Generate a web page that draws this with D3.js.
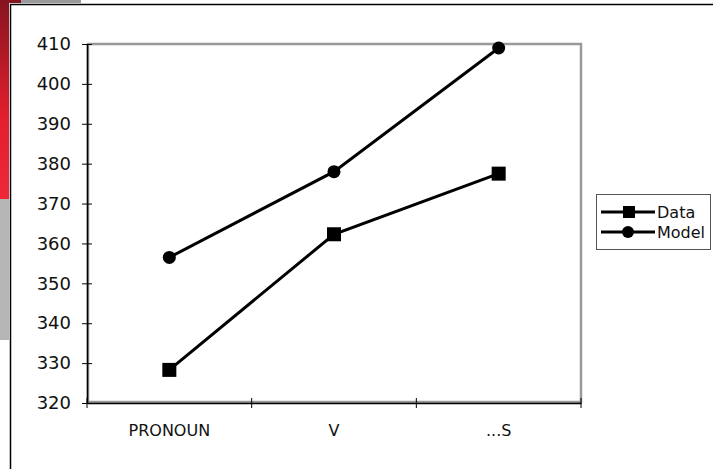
<!DOCTYPE html>
<html>
<head>
<meta charset="utf-8">
<script src="https://cdn.jsdelivr.net/npm/d3@7"></script>
<style>
  body { margin: 0; background: #fff; }
  svg { display: block; }
  text { font-family: "DejaVu Sans", sans-serif; fill: #111; }
</style>
</head>
<body>
<div id="chart"></div>
<script>
// Values
const categories = ["PRONOUN", "V", "...S"];
const dataValues = [328.3, 362.3, 377.5];
const modelValues = [356.5, 378, 409];
const yTicks = [320, 330, 340, 350, 360, 370, 380, 390, 400, 410];

const width = 713, height = 469;

const svg = d3.select("#chart")
    .append("svg")
    .attr("width", width)
    .attr("height", height);

// Slide decoration on the left edge
const defs = svg.append("defs");
const grad = defs.append("linearGradient")
    .attr("id", "redbar")
    .attr("x1", 0).attr("y1", 0).attr("x2", 0).attr("y2", 1);
grad.append("stop").attr("offset", "0%").attr("stop-color", "#86141f");
grad.append("stop").attr("offset", "60%").attr("stop-color", "#e41e2e");
grad.append("stop").attr("offset", "100%").attr("stop-color", "#f0283a");

svg.append("rect").attr("x", 0).attr("y", 0).attr("width", 9).attr("height", 199)
    .attr("fill", "url(#redbar)");
svg.append("rect").attr("x", 0).attr("y", 0).attr("width", 21).attr("height", 3)
    .attr("fill", "#86141f");
svg.append("rect").attr("x", 0).attr("y", 199).attr("width", 9).attr("height", 141)
    .attr("fill", "#b6b6b6");
svg.append("rect").attr("x", 21).attr("y", 0).attr("width", 60).attr("height", 3)
    .attr("fill", "#9a9a9a");

// Chart frame
svg.append("path")
    .attr("d", "M10.5," + height + "V4.5H" + width)
    .attr("fill", "none")
    .attr("stroke", "#000")
    .attr("stroke-width", 1.5);

// Scales
const x = d3.scaleBand()
    .domain(categories)
    .range([87, 581])
    .padding(0);

const y = d3.scaleLinear()
    .domain([320, 410])
    .range([403, 44]);

// Plot area border (grey)
svg.append("rect")
    .attr("x", x.range()[0] + 1)
    .attr("y", y.range()[1])
    .attr("width", x.range()[1] - x.range()[0] - 1)
    .attr("height", y.range()[0] - y.range()[1] - 1)
    .attr("fill", "none")
    .attr("stroke", "#999")
    .attr("stroke-width", 2.5);

// Y axis
const yAxis = svg.append("g")
    .attr("transform", "translate(" + x.range()[0] + ",0)")
    .call(d3.axisLeft(y).tickValues(yTicks).tickSize(5).tickSizeOuter(0).tickFormat(d3.format("d")));
yAxis.select(".domain").attr("stroke", "#000").attr("stroke-width", 1.5);
yAxis.selectAll(".tick line").attr("x1", 5).attr("x2", -5).attr("stroke", "#000");
yAxis.selectAll(".tick text")
    .attr("x", -16)
    .style("font-size", "18px")
    .style("font-family", "DejaVu Sans, sans-serif")
    .attr("fill", "#111");

// X axis: labels at band centres, tick marks at band edges
const xAxis = svg.append("g")
    .attr("transform", "translate(0," + y.range()[0] + ")")
    .call(d3.axisBottom(x).tickSize(0).tickSizeOuter(0));
xAxis.select(".domain").attr("stroke", "#000").attr("stroke-width", 1.5);
xAxis.selectAll(".tick text")
    .attr("y", 22)
    .attr("dy", "0.71em")
    .style("font-size", "16px")
    .style("font-family", "DejaVu Sans, sans-serif")
    .attr("fill", "#111");

const edges = d3.range(categories.length + 1).map(i => x.range()[0] + i * x.step());
xAxis.selectAll(".edge")
    .data(edges)
    .join("line")
    .attr("class", "edge")
    .attr("x1", d => d).attr("x2", d => d)
    .attr("y1", -5).attr("y2", 5)
    .attr("stroke", "#000");

// Lines
const line = d3.line()
    .x((d, i) => x(categories[i]) + x.bandwidth() / 2)
    .y(d => y(d));

[dataValues, modelValues].forEach(vals => {
    svg.append("path")
        .datum(vals)
        .attr("d", line)
        .attr("fill", "none")
        .attr("stroke", "#000")
        .attr("stroke-width", 3);
});

// Markers
svg.selectAll(".sq")
    .data(dataValues)
    .join("rect")
    .attr("class", "sq")
    .attr("x", (d, i) => x(categories[i]) + x.bandwidth() / 2 - 7)
    .attr("y", d => y(d) - 7)
    .attr("width", 14)
    .attr("height", 14)
    .attr("fill", "#000");

svg.selectAll(".dot")
    .data(modelValues)
    .join("circle")
    .attr("class", "dot")
    .attr("cx", (d, i) => x(categories[i]) + x.bandwidth() / 2)
    .attr("cy", d => y(d))
    .attr("r", 6.5)
    .attr("fill", "#000");

// Legend
const legend = svg.append("g").attr("transform", "translate(596,194)");
legend.append("rect")
    .attr("x", 0.5).attr("y", 0.5)
    .attr("width", 114).attr("height", 55)
    .attr("fill", "#fff")
    .attr("stroke", "#555")
    .attr("stroke-width", 1);

const legendItems = ["Data", "Model"];
legendItems.forEach((name, i) => {
    const cy = 18 + i * 20;
    legend.append("line")
        .attr("x1", 5).attr("x2", 59)
        .attr("y1", cy).attr("y2", cy)
        .attr("stroke", "#000")
        .attr("stroke-width", 3);
    if (i === 0) {
        legend.append("rect")
            .attr("x", 27).attr("y", cy - 6)
            .attr("width", 12).attr("height", 12)
            .attr("fill", "#000");
    } else {
        legend.append("circle")
            .attr("cx", 32).attr("cy", cy)
            .attr("r", 6)
            .attr("fill", "#000");
    }
    legend.append("text")
        .attr("x", 61)
        .attr("y", cy + 5.5)
        .style("font-size", "16px")
        .text(name);
});
</script>
</body>
</html>
